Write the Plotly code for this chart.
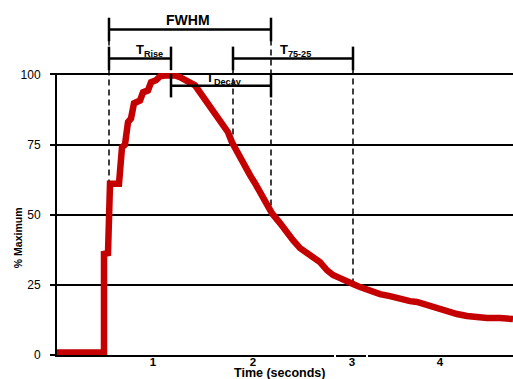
import plotly.graph_objects as go

# ---- data (time in seconds, response in % of maximum) ----
time_s = [0.04, 0.51, 0.51, 0.55, 0.57, 0.66, 0.69, 0.72, 0.75, 0.78, 0.81, 0.87, 0.90, 0.95,
          0.98, 1.03, 1.07, 1.12, 1.22, 1.27, 1.42, 1.49, 1.55, 1.62, 1.69, 1.75, 1.79, 1.84,
          1.90, 1.97, 2.02, 2.07, 2.13, 2.19, 2.27, 2.34, 2.40, 2.47, 2.54, 2.60, 2.67, 2.74,
          2.80, 2.87, 2.94, 3.00, 3.07, 3.17, 3.27, 3.37, 3.47, 3.57, 3.64, 3.74, 3.84, 3.94,
          4.04, 4.14, 4.24, 4.34, 4.47, 4.60]
pct_max = [0.9, 0.9, 36.0, 36.3, 61.0, 61.0, 74.0, 75.0, 83.0, 84.3, 89.7, 90.7, 93.6, 94.3,
           97.2, 97.9, 99.3, 99.6, 99.6, 99.0, 96.1, 92.5, 89.7, 85.4, 81.9, 79.4, 75.8, 72.2,
           68.3, 64.1, 61.2, 58.0, 54.1, 50.5, 47.0, 43.4, 40.9, 38.1, 36.3, 34.5, 33.1, 30.2,
           28.5, 27.4, 26.0, 25.3, 24.2, 22.8, 21.7, 21.0, 19.9, 19.2, 18.9, 17.8, 16.4, 15.3,
           14.6, 13.9, 13.5, 13.2, 13.2, 12.8]

x_tick_vals = [1, 2, 2.99, 3.87]
x_tick_text = ["1", "2", "3", "4"]
y_tick_vals = [0, 25, 50, 75, 100]

# measurement markers (seconds) and the % level where each dashed guide meets the curve
guide_x = [0.56, 1.80, 2.18, 3.00]
guide_top = [116.0, 105.7, 116.0, 105.7]
guide_bottom = [50.0, 75.0, 50.0, 25.0]

# brackets
bracket_labels = ["FWHM", "T<sub>Rise</sub>", "T<sub>Decay</sub>", "T<sub>75-25</sub>"]
bracket_start = [0.56, 0.56, 1.18, 1.80]
bracket_end = [2.18, 1.18, 2.18, 3.00]
bracket_level = [116.0, 105.7, 96.0, 105.7]
label_x = [1.35, 0.81, 1.51, 2.25]
label_level = [119.3, 108.6, 98.6, 108.6]

Y_MIN, Y_MAX = 0, 100.5
def py(v):
    return (v - Y_MIN) / (Y_MAX - Y_MIN)

FONT = "Liberation Sans"
RED = "#c40000"

fig = go.Figure()
fig.add_trace(go.Scatter(x=time_s, y=pct_max, mode="lines",
                         line=dict(color=RED, width=6.5), hoverinfo="skip"))

shapes = []
# dashed guides
for gx, gt, gb in zip(guide_x, guide_top, guide_bottom):
    shapes.append(dict(type="line", xref="x", yref="paper", x0=gx, x1=gx,
                       y0=py(gt), y1=py(gb), layer="below",
                       line=dict(color="black", width=1.5, dash="6px,4px")))
# brackets
HALF = 4.2
for s, e, lv in zip(bracket_start, bracket_end, bracket_level):
    shapes.append(dict(type="line", xref="x", yref="paper", x0=s, x1=e, y0=py(lv), y1=py(lv),
                       line=dict(color="black", width=2.5)))
    for xx in (s, e):
        shapes.append(dict(type="line", xref="x", yref="paper", x0=xx, x1=xx,
                           y0=py(lv - HALF), y1=py(lv + HALF),
                           line=dict(color="black", width=2.5)))
# small breaks in the x axis line
for gx in (2.82, 3.14):
    shapes.append(dict(type="line", xref="x", yref="paper", x0=gx, x1=gx, y0=-0.012, y1=0.012,
                       line=dict(color="white", width=2)))

annotations = []
for lab, lx, ll in zip(bracket_labels, label_x, label_level):
    annotations.append(dict(text=lab, x=lx, y=py(ll), xref="x", yref="paper",
                            xanchor="center" if lab == "FWHM" else "left", yanchor="middle",
                            showarrow=False,
                            font=dict(family=FONT, size=14 if lab == "FWHM" else 13,
                                      color="black", weight="bold")))
annotations.append(dict(text="Time (seconds)", x=2.26, y=-0.064, xref="x", yref="paper",
                        xanchor="center", yanchor="middle", showarrow=False,
                        font=dict(family=FONT, size=12.5, color="black", weight="bold")))
annotations.append(dict(text="% Maximum", x=-0.085, y=0.415, xref="paper", yref="paper",
                        xanchor="center", yanchor="middle", showarrow=False, textangle=-90,
                        font=dict(family=FONT, size=10.5, color="black", weight="bold")))

fig.update_layout(
    width=513, height=379,
    margin=dict(l=57, r=0, t=73, b=24),
    plot_bgcolor="white", paper_bgcolor="white",
    showlegend=False,
    shapes=shapes, annotations=annotations,
    xaxis=dict(range=[0.04, 4.60], showgrid=False, zeroline=False, showline=True,
               linecolor="black", linewidth=2, ticks="", tickvals=x_tick_vals,
               ticktext=x_tick_text, ticklabelstandoff=-5,
               tickfont=dict(family=FONT, size=11.5, color="black", weight="bold")),
    yaxis=dict(range=[Y_MIN, Y_MAX], tickvals=y_tick_vals, showgrid=True, gridcolor="black",
               gridwidth=2, zeroline=False, showline=True, linecolor="black", linewidth=2,
               ticks="outside", ticklen=5, tickwidth=2, tickcolor="black",
               ticklabelstandoff=7,
               tickfont=dict(family=FONT, size=12, color="black")),
)

fig.write_html("out.html")
